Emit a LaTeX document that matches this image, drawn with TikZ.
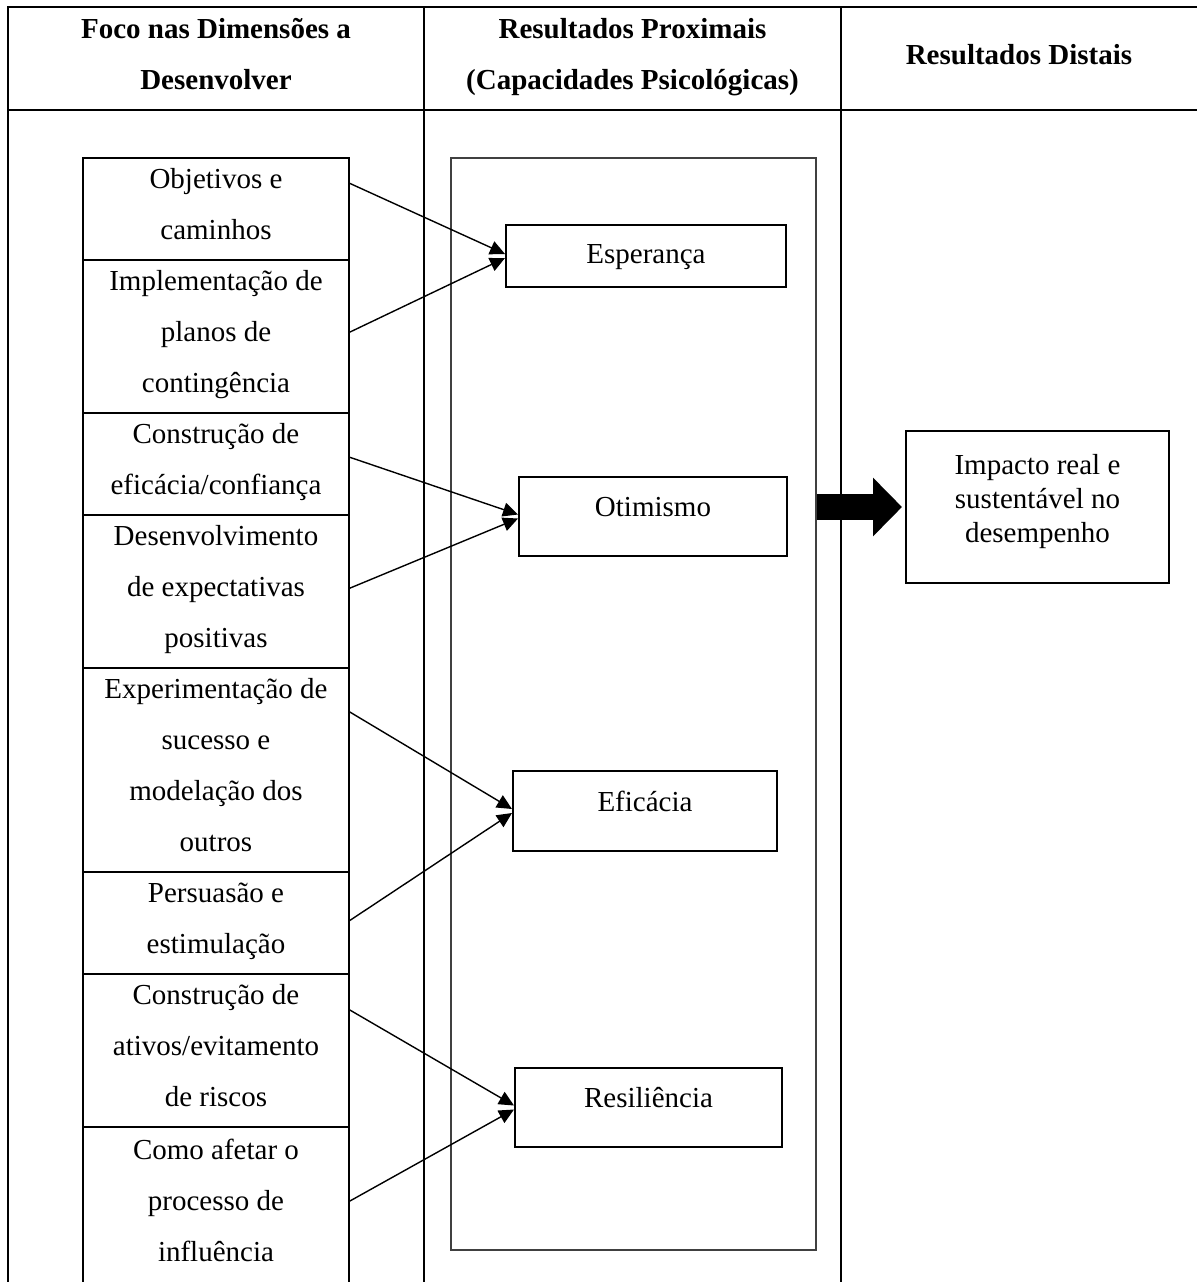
\documentclass[tikz,border=0pt]{standalone}
\usepackage{fontspec}
\setmainfont{Liberation Serif}
\usetikzlibrary{arrows.meta, positioning}
\newcommand{\diagfont}{\fontsize{14.5pt}{25.5pt}\selectfont}
\newcommand{\lstrut}{\rule[-10pt]{0pt}{25.5pt}}

\begin{document}
\begin{tikzpicture}[
    x=0.5pt, y=-0.5pt,
    every node/.style={font=\diagfont},
    tabline/.style={line width=1.2pt, line cap=rect},
    header/.style={align=flush center, text width=180pt, inner sep=0pt, font=\diagfont\bfseries, execute at begin node=\lstrut, execute at end node=\lstrut},
    dimbox/.style={rectangle, draw, line width=1pt, text width=127pt, inner xsep=3pt, inner ysep=0pt, outer sep=0pt, align=flush center, execute at begin node=\lstrut, execute at end node=\lstrut},
    proxbox/.style={rectangle, draw=black!75, line width=1pt, minimum width=182.5pt, minimum height=546pt},
    capbox/.style={rectangle, draw, line width=1pt, minimum height=39.5pt, text height=6pt, text depth=6pt},
    distbox/.style={rectangle, draw, line width=1pt, text width=125.5pt, inner xsep=3pt, minimum height=76pt, align=flush center, font=\fontsize{14.5pt}{17pt}\selectfont, execute at end node=\rule[-9pt]{0pt}{1pt}},
    arr/.style={-{Triangle[length=7.5pt, width=7pt]}, line width=0.7pt},
    bigarr/.style={-{Triangle[length=14.5pt, width=28.5pt]}, line width=13pt, shorten >=1.5pt}
]
    \useasboundingbox (0,0) rectangle (1197,1282);

    % table
    \draw[tabline] (8,7) -- (1197,7);
    \draw[tabline] (8,110) -- (1197,110);
    \foreach \x in {8,424,841}
        \draw[tabline] (\x,7) -- (\x,1282);

    \node (hdim) [header] at (216,58.5) {Foco nas Dimensões a\\Desenvolver};
    \node (hprox) [header] at (632.5,58.5) {Resultados Proximais\\(Capacidades Psicológicas)};
    \node (hdist) [header] at (1019,58.5) {Resultados Distais};

    % dimensoes
    \node (obj) [dimbox] at (216,208.5) {Objetivos e\\caminhos};
    \node (impl) [dimbox, below=0pt of obj] {Implementação de\\planos de\\contingência};
    \node (conf) [dimbox, below=0pt of impl] {Construção de\\eficácia/confiança};
    \node (expec) [dimbox, below=0pt of conf] {Desenvolvimento\\de expectativas\\positivas};
    \node (suce) [dimbox, below=0pt of expec] {Experimentação de\\sucesso e\\modelação dos\\outros};
    \node (pers) [dimbox, below=0pt of suce] {Persuasão e\\estimulação};
    \node (ativ) [dimbox, below=0pt of pers] {Construção de\\ativos/evitamento\\de riscos};
    \node (infl) [dimbox, below=0pt of ativ, minimum height=78pt] {Como afetar o\\processo de\\influência};

    % capacidades
    \node (prox) [proxbox] at (633.5,704) {};
    \node (esp) [capbox, minimum width=140pt, minimum height=31pt, text height=9.5pt, text depth=2.5pt] at (646,256) {Esperança};
    \node (otim) [capbox, minimum width=134pt] at (653,516.5) {Otimismo};
    \node (efic) [capbox, minimum width=132pt, minimum height=40pt] at (645,811) {Eficácia};
    \node (resil) [capbox, minimum width=133.5pt] at (648.5,1107.5) {Resiliência};

    \node (impacto) [distbox] at (1037.5,507) {Impacto real e\\sustentável no\\desempenho};

    \draw[arr] ([yshift=12.75pt]obj.east) -- ([yshift=1pt]esp.west);
    \draw[arr] ([yshift=1.75pt]impl.east) -- ([yshift=-1pt]esp.west);
    \draw[arr] ([yshift=3.25pt]conf.east) -- ([yshift=1pt]otim.west);
    \draw[arr] ([yshift=1.25pt]expec.east) -- ([yshift=-1pt]otim.west);
    \draw[arr] ([yshift=29pt]suce.east) -- ([yshift=1pt]efic.west);
    \draw[arr] ([yshift=0.75pt]pers.east) -- ([yshift=-1pt]efic.west);
    \draw[arr] ([yshift=20.25pt]ativ.east) -- ([yshift=1pt]resil.west);
    \draw[arr] ([yshift=1.5pt]infl.east) -- ([yshift=-1pt]resil.west);

    \draw[bigarr] (prox.east |- impacto.west) -- (impacto.west);
\end{tikzpicture}
\end{document}
